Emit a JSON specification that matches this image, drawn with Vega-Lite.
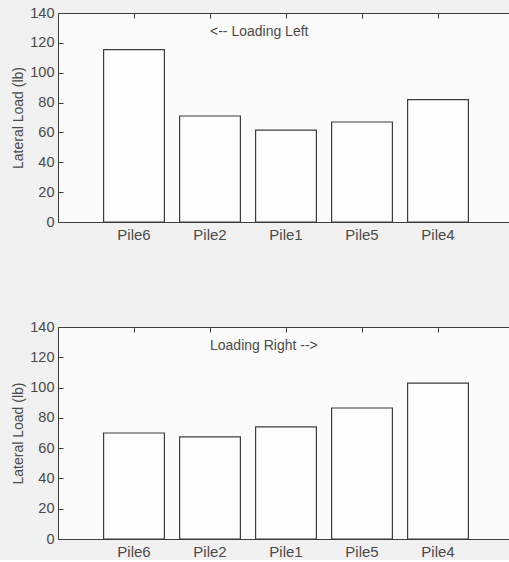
{
  "$schema": "https://vega.github.io/schema/vega-lite/v6.json",
  "background": "#f1f1f1",
  "padding": {"left": 11, "top": 4, "right": 0, "bottom": 0},
  "config": {
    "font": "Liberation Sans",
    "view": {"stroke": "#3c3c3c", "strokeWidth": 1, "fill": "#fbfbfb"},
    "axis": {
      "grid": false,
      "domain": false,
      "tickColor": "#3c3c3c",
      "labelColor": "#4a4a4a",
      "titleColor": "#4a4a4a",
      "labelFont": "Liberation Sans",
      "titleFont": "Liberation Sans",
      "titleFontWeight": "normal"
    },
    "axisY": {"labelFontSize": 14.5, "titleFontSize": 14, "labelOverlap": false, "tickSize": -5, "labelPadding": 9, "titlePadding": 4},
    "axisX": {"labelFontSize": 15, "tickSize": -5, "labelPadding": 10, "labelAngle": 0}
  },
  "spacing": 105,
  "bounds": "flush",
  "vconcat": [
    {
      "width": 456,
      "height": 209,
      "layer": [
        {
          "data": {"values": [
            {"pile": "Pile6", "load": 115.5},
            {"pile": "Pile2", "load": 71},
            {"pile": "Pile1", "load": 61.5},
            {"pile": "Pile5", "load": 67},
            {"pile": "Pile4", "load": 82}
          ]},
          "mark": {"type": "bar", "fill": "#fdfdfd", "stroke": "#3c3c3c", "strokeWidth": 1.2},
          "encoding": {
            "x": {"field": "pile", "type": "nominal", "sort": null,
              "scale": {"domain": ["Pile6", "Pile2", "Pile1", "Pile5", "Pile4"], "paddingInner": 0.2, "paddingOuter": 0.6},
              "axis": {"orient": "bottom", "title": null, "labelAngle": 0, "tickSize": -5, "labelPadding": 10, "labelFontSize": 15}},
            "y": {"field": "load", "type": "quantitative", "scale": {"domain": [0, 140]},
              "axis": {"values": [0, 20, 40, 60, 80, 100, 120, 140], "labelOverlap": false, "tickSize": -5, "labelPadding": 9, "labelFontSize": 14.5,
                "title": "Lateral Load (lb)", "titleFontSize": 14, "titlePadding": 4}}
          }
        },
        {
          "data": {"values": [{"pile": "Pile2", "load": 127.5, "label": "<-- Loading Left"}]},
          "mark": {"type": "text", "align": "left", "baseline": "middle", "fontSize": 14, "color": "#4a4a4a", "dx": 0},
          "encoding": {
            "x": {"field": "pile", "type": "nominal", "sort": null,
              "scale": {"domain": ["Pile6", "Pile2", "Pile1", "Pile5", "Pile4"], "paddingInner": 0.2, "paddingOuter": 0.6},
              "axis": {"orient": "top", "labels": false, "title": null, "tickSize": -5}},
            "y": {"field": "load", "type": "quantitative", "scale": {"domain": [0, 140]},
              "axis": {"values": [0, 20, 40, 60, 80, 100, 120, 140], "labelOverlap": false, "tickSize": -5, "labelPadding": 9, "labelFontSize": 14.5,
                "title": "Lateral Load (lb)", "titleFontSize": 14, "titlePadding": 4}},
            "text": {"field": "label"}
          }
        }
      ],
      "resolve": {"axis": {"x": "independent"}}
    },
    {
      "width": 456,
      "height": 212,
      "layer": [
        {
          "data": {"values": [
            {"pile": "Pile6", "load": 70},
            {"pile": "Pile2", "load": 67.5},
            {"pile": "Pile1", "load": 74},
            {"pile": "Pile5", "load": 86.5},
            {"pile": "Pile4", "load": 103}
          ]},
          "mark": {"type": "bar", "fill": "#fdfdfd", "stroke": "#3c3c3c", "strokeWidth": 1.2},
          "encoding": {
            "x": {"field": "pile", "type": "nominal", "sort": null,
              "scale": {"domain": ["Pile6", "Pile2", "Pile1", "Pile5", "Pile4"], "paddingInner": 0.2, "paddingOuter": 0.6},
              "axis": {"orient": "bottom", "title": null, "labelAngle": 0, "tickSize": -5, "labelPadding": 10, "labelFontSize": 15}},
            "y": {"field": "load", "type": "quantitative", "scale": {"domain": [0, 140]},
              "axis": {"values": [0, 20, 40, 60, 80, 100, 120, 140], "labelOverlap": false, "tickSize": -5, "labelPadding": 9, "labelFontSize": 14.5,
                "title": "Lateral Load (lb)", "titleFontSize": 14, "titlePadding": 4}}
          }
        },
        {
          "data": {"values": [{"pile": "Pile2", "load": 127.5, "label": "Loading Right -->"}]},
          "mark": {"type": "text", "align": "left", "baseline": "middle", "fontSize": 14, "color": "#4a4a4a", "dx": 0},
          "encoding": {
            "x": {"field": "pile", "type": "nominal", "sort": null,
              "scale": {"domain": ["Pile6", "Pile2", "Pile1", "Pile5", "Pile4"], "paddingInner": 0.2, "paddingOuter": 0.6},
              "axis": {"orient": "top", "labels": false, "title": null, "tickSize": -5}},
            "y": {"field": "load", "type": "quantitative", "scale": {"domain": [0, 140]},
              "axis": {"values": [0, 20, 40, 60, 80, 100, 120, 140], "labelOverlap": false, "tickSize": -5, "labelPadding": 9, "labelFontSize": 14.5,
                "title": "Lateral Load (lb)", "titleFontSize": 14, "titlePadding": 4}},
            "text": {"field": "label"}
          }
        }
      ],
      "resolve": {"axis": {"x": "independent"}}
    }
  ]
}
